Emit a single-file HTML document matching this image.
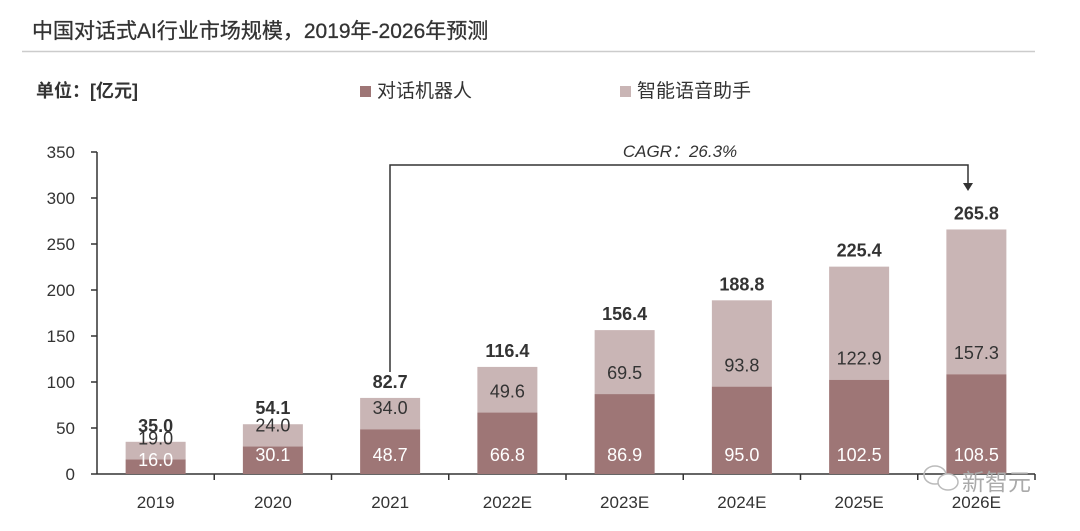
<!DOCTYPE html>
<html><head><meta charset="utf-8"><style>
body{margin:0;background:#fff;width:1080px;height:526px;overflow:hidden;font-family:"Liberation Sans","Noto Sans CJK SC",sans-serif;}
</style></head><body>
<svg width="1080" height="526" style="font-family:'Liberation Sans','Noto Sans CJK SC',sans-serif">
<text x="32" y="38" font-size="21" fill="#333" stroke="#333" stroke-width="0.3">中国对话式AI行业市场规模，2019年-2026年预测</text>
<line x1="22" y1="51.5" x2="1035" y2="51.5" stroke="#ccc" stroke-width="1.5"/>
<text x="36" y="97" font-size="18" font-weight="bold" fill="#333">单位：[亿元]</text>
<g><rect x="360" y="86" width="11" height="11" fill="#9e7676"/><text x="377" y="97" font-size="19" fill="#333">对话机器人</text></g>
<g><rect x="620" y="86" width="11" height="11" fill="#c9b5b5"/><text x="637" y="97" font-size="19" fill="#333">智能语音助手</text></g>
<g id="plot"></g>
<g>
<polyline points="390,372 390,165 968,165 968,185" fill="none" stroke="#333" stroke-width="1.5"/>
<polygon points="963,183 973,183 968,191" fill="#333"/>
<text x="680" y="157" font-size="17" font-style="italic" fill="#333" text-anchor="middle">CAGR：26.3%</text>
</g>
<g>
<ellipse cx="935" cy="475" rx="11" ry="9" fill="none" stroke="#bbb" stroke-width="1.5"/>
<ellipse cx="948" cy="482" rx="10" ry="8" fill="#fff" stroke="#bbb" stroke-width="1.5"/>
<text x="962" y="490" font-size="23" fill="#aaa">新智元</text>
</g>
</svg>
<script>
const categories=["2019","2020","2021","2022E","2023E","2024E","2025E","2026E"];
const robot=[16.0,30.1,48.7,66.8,86.9,95.0,102.5,108.5];
const voice=[19.0,24.0,34.0,49.6,69.5,93.8,122.9,157.3];
const totals=[35.0,54.1,82.7,116.4,156.4,188.8,225.4,265.8];
const yTicks=[0,50,100,150,200,250,300,350];
const NS="http://www.w3.org/2000/svg";
const g=document.getElementById('plot');
const x0=97,band=117.25,bw=60,y0=474,yTop=152;
const y=v=>y0-(v/350)*(y0-yTop);
const xc=i=>x0+band*(i+0.5);
function el(t,a,txt){const e=document.createElementNS(NS,t);for(const k in a)e.setAttribute(k,a[k]);if(txt!==undefined)e.textContent=txt;g.appendChild(e);return e;}
let ax=el('line',{x1:x0,y1:yTop,x2:x0,y2:y0,stroke:'#333','stroke-width':1.5});


yTicks.forEach(v=>{
 let t=el('line',{x1:x0-6,y1:y(v),x2:x0,y2:y(v),stroke:'#333','stroke-width':1.5});
 
 
 let l=el('text',{x:x0-22,y:y(v)+6,'font-size':17,fill:'#333','text-anchor':'end'},String(v));
 
 
});
let xa=el('line',{x1:x0,y1:y0,x2:x0+band*categories.length,y2:y0,stroke:'#333','stroke-width':1.5});


categories.forEach((c,i)=>{
 const cx=xc(i);
 let tk=el('line',{x1:x0+band*(i+1),y1:y0,x2:x0+band*(i+1),y2:y0+6,stroke:'#333','stroke-width':1.5});
 
 
 let r1=el('rect',{x:cx-bw/2,y:y(robot[i]),width:bw,height:y0-y(robot[i]),fill:'#9e7676'});
 
 
 let r2=el('rect',{x:cx-bw/2,y:y(robot[i]+voice[i]),width:bw,height:y(robot[i])-y(robot[i]+voice[i]),fill:'#c9b5b5'});
 
 
 let l1=el('text',{x:cx,y:y0-13,'font-size':18,fill:'#fff','text-anchor':'middle'},robot[i].toFixed(1));
 if(i===0)l1.setAttribute('y',y0-8);
 
 
 let l2=el('text',{x:cx,y:y(robot[i])-15,'font-size':18,fill:'#333','text-anchor':'middle'},voice[i].toFixed(1));
 
 
 let lt=el('text',{x:cx,y:y(totals[i])-10,'font-size':18,'font-weight':'bold',fill:'#333','text-anchor':'middle'},totals[i].toFixed(1));
 
 
 let lx=el('text',{x:cx,y:y0+34,'font-size':17,fill:'#333','text-anchor':'middle'},c);
 
 
});
</script>
</body></html>
